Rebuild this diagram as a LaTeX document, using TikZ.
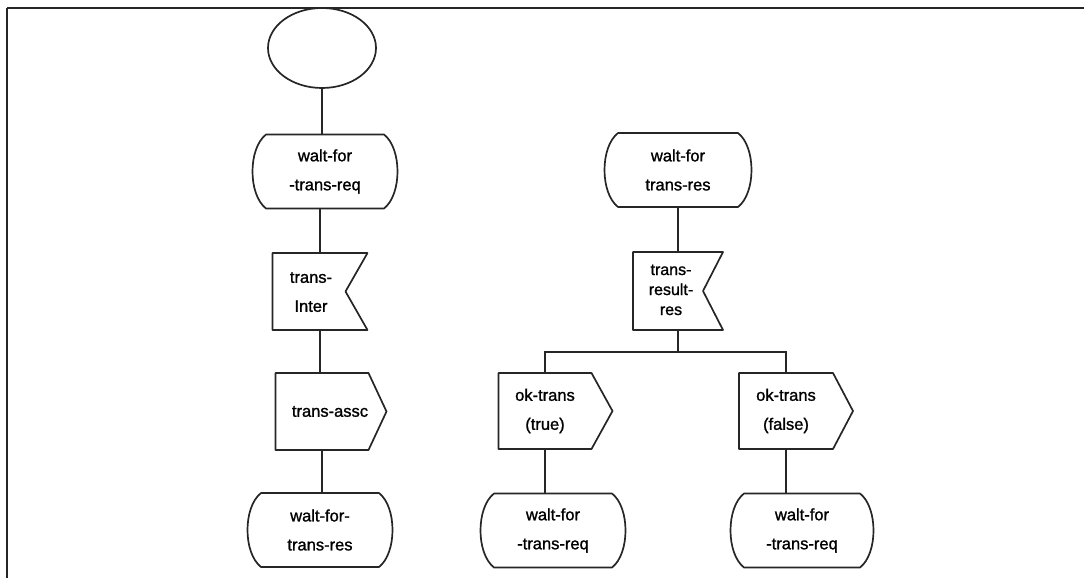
\documentclass[tikz,border=0pt]{standalone}
\usepackage{fontspec}
\setmainfont{Liberation Sans}
\newfontfamily\diagfont{Liberation Sans}[FakeBold=1.2]
\usetikzlibrary{shapes.geometric}
\newcommand\stateoutline[1]{%
  \draw[outl] ([xshift=15pt]#1.north west) -- ([xshift=-15pt]#1.north east)
    .. controls ([xshift=3pt,yshift=-14pt]#1.north east) and ([xshift=3pt,yshift=14pt]#1.south east) .. ([xshift=-15pt]#1.south east)
    -- ([xshift=15pt]#1.south west)
    .. controls ([xshift=-3pt,yshift=14pt]#1.south west) and ([xshift=-3pt,yshift=-14pt]#1.north west) .. cycle;}
\newcommand\inoutline[2]{%
  \draw[outl] (#1.north west) -- (#1.north east) -- ([xshift=-#2]#1.east) -- (#1.south east) -- (#1.south west) -- cycle;}
\newcommand\outoutline[2]{%
  \draw[outl] (#1.north west) -- (#1.north east) -- ([xshift=#2]#1.east) -- (#1.south east) -- (#1.south west) -- cycle;}
\begin{document}
\begin{tikzpicture}[x=1pt,y=-1pt,
  outl/.style={line width=1.7pt, draw=black!85, line join=round},
  conn/.style={line width=1.7pt, draw=black!85},
  boxtext/.style={draw=none, outer sep=0pt, inner sep=0pt, align=center,
    font=\diagfont\fontsize{16.5}{29}\selectfont},
  statebox/.style={boxtext, minimum width=148pt, minimum height=74pt},
  inbox/.style={boxtext, minimum height=77pt},
  outbox/.style={boxtext, minimum height=77pt},
  startnode/.style={ellipse, line width=1.7pt, draw=black!85, minimum width=108pt, minimum height=80pt, inner sep=0pt, outer sep=0pt}]
\useasboundingbox (0,0) rectangle (1084,578);
\draw[conn] (7,8) -- (1084,8);
\draw[conn] (7,8) -- (7,578);

% left column
\node[startnode] (start) at (322,48) {};
\node[statebox] (st1) at (325,171.5) {walt-for\\-trans-req};
\node[inbox, minimum width=95pt] (tinter) at (320,291.5) {\begin{tabular}{@{}c@{\hspace{18pt}}}trans-\\Inter\end{tabular}};
\node[outbox, minimum width=93pt] (tassc) at (322,411.5) {\hspace*{16pt}trans-assc};
\node[statebox] (st3) at (320,530) {walt-for-\\trans-res};

% right column
\node[statebox, minimum width=150pt] (st2) at (678,170) {walt-for\\trans-res};
\node[inbox, minimum width=90pt, minimum height=78pt, font=\diagfont\fontsize{16}{20}\selectfont] (tres) at (678,291) {\begin{tabular}{@{}c@{\hspace{14pt}}}trans-\\result-\\res\end{tabular}};
\coordinate (br) at (678,352);
\node[outbox, minimum width=93pt, minimum height=76pt] (okT) at (545,411) {ok-trans\\(true)};
\node[outbox, minimum width=94pt, minimum height=76pt] (okF) at (786,411) {ok-trans\\(false)};
\node[statebox] (stT) at (553,530.5) {walt-for\\-trans-req};
\node[statebox, minimum width=146pt] (stF) at (802,530.5) {walt-for\\-trans-req};

% outlines
\stateoutline{st1}
\stateoutline{st3}
\stateoutline{st2}
\stateoutline{stT}
\stateoutline{stF}
\inoutline{tinter}{22pt}
\inoutline{tres}{20pt}
\outoutline{tassc}{18pt}
\outoutline{okT}{21pt}
\outoutline{okF}{20pt}

% connectors
\draw[conn] (start.south) -- (start.south |- st1.north);
\draw[conn] (tinter.north |- st1.south) -- (tinter.north);
\draw[conn] (tinter.south) -- (tinter.south |- tassc.north);
\draw[conn] (tassc.south) -- (tassc.south |- st3.north);
\draw[conn] (st2.south) -- (tres.north);
\draw[conn] (tres.south) -- (br);
\draw[conn] (okT.north) |- (br) -| (okF.north);
\draw[conn] (okT.south) -- (okT.south |- stT.north);
\draw[conn] (okF.south) -- (okF.south |- stF.north);
\end{tikzpicture}
\end{document}
